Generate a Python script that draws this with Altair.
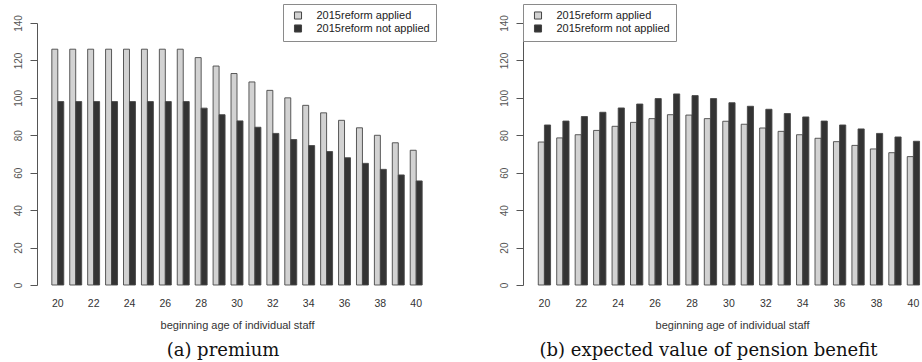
import altair as alt
import pandas as pd

# Beginning age of the individual staff member (one bar group per age)
ages = [20, 21, 22, 23, 24, 25, 26, 27, 28, 29, 30,
        31, 32, 33, 34, 35, 36, 37, 38, 39, 40]
age_ticks = [20, 22, 24, 26, 28, 30, 32, 34, 36, 38, 40]
y_ticks = [0, 20, 40, 60, 80, 100, 120, 140]

series = ["2015reform applied", "2015reform not applied"]
series_colors = ["#d2d2d2", "#333333"]

# (a) premium
premium_applied = [126, 126, 126, 126, 126, 126, 126, 126, 121.5, 117, 113,
                   108.5, 104, 100, 96, 92, 88, 84, 80, 76, 72]
premium_not_applied = [98, 98, 98, 98, 98, 98, 98, 98, 94.5, 91, 87.7,
                       84.3, 81, 77.7, 74.5, 71.3, 68, 65, 61.8, 58.8, 55.6]

# (b) expected value of pension benefit
benefit_applied = [76.4, 78.6, 80.3, 82.6, 84.8, 86.9, 88.9, 91.0, 90.8, 88.9, 87.5,
                   85.9, 83.9, 82.1, 80.3, 78.4, 76.6, 74.6, 72.7, 70.7, 68.6]
benefit_not_applied = [85.5, 87.6, 90.0, 92.3, 94.6, 96.7, 99.6, 102.1, 101.2, 99.6, 97.4,
                       95.5, 93.9, 91.6, 89.8, 87.6, 85.5, 83.4, 81.0, 79.1, 76.8]

SANS = "Liberation Sans"
SERIF = "DejaVu Serif"


def panel(applied, not_applied, caption, legend_x, width, pad_outer, band_align, title_x):
    df = pd.DataFrame({
        "age": ages + ages,
        "series": [series[0]] * len(ages) + [series[1]] * len(ages),
        "value": applied + not_applied,
    })
    return (
        alt.Chart(df)
        .mark_bar(stroke="#474747", strokeWidth=0.9)
        .encode(
            x=alt.X(
                "age:O",
                scale=alt.Scale(paddingInner=1 / 3, paddingOuter=pad_outer, align=band_align),
                axis=alt.Axis(
                    values=age_ticks, labelAngle=0, domain=False, ticks=False, tickSize=0,
                    labelPadding=13, labelFont=SANS, labelFontSize=10.5, labelColor="#333333",
                    title="beginning age of individual staff", titleFont=SANS,
                    titleFontSize=11, titleFontWeight="normal", titleColor="#333333",
                    titlePadding=11, titleX=title_x,
                ),
            ),
            xOffset=alt.XOffset(
                "series:N", sort=series,
                scale=alt.Scale(domain=series, paddingInner=0, paddingOuter=0),
            ),
            y=alt.Y(
                "value:Q",
                scale=alt.Scale(domain=[0, 140], nice=False, zero=True),
                axis=alt.Axis(
                    values=y_ticks, grid=False, tickSize=7, tickColor="#555555",
                    domainColor="#555555", labelAngle=270, labelAlign="center",
                    labelBaseline="bottom", labelPadding=7, labelFont=SANS,
                    labelFontSize=10, labelColor="#555555", title=None,
                ),
            ),
            color=alt.Color(
                "series:N", sort=series,
                scale=alt.Scale(domain=series, range=series_colors),
                legend=alt.Legend(
                    title=None, orient="none", legendX=legend_x, legendY=-19,
                    symbolType="square", symbolSize=50, symbolStrokeColor="#444444",
                    symbolStrokeWidth=1, symbolOffset=3.5, labelOffset=13,
                    padding=6, rowPadding=0, strokeColor="#8a8a8a", fillColor="white",
                    labelFont=SANS, labelFontSize=11, labelColor="#222222",
                ),
            ),
        )
        .properties(
            width=width, height=262,
            title=alt.TitleParams(
                caption, orient="bottom", anchor="middle", font=SERIF, fontSize=18,
                fontWeight="normal", color="#111111", offset=11, dx=-14,
            ),
        )
    )


left = panel(premium_applied, premium_not_applied, "(a) premium",
             246, 400, 0.827, 0.5, 200)
# the right-hand panel runs slightly past the right edge, so its bands are
# pushed towards the right end of a narrower plot area
right = panel(benefit_applied, benefit_not_applied, "(b) expected value of pension benefit",
              0, 399, 0.48, 0.862, 209)

chart = (
    alt.hconcat(left, right, spacing=86, bounds="flush")
    .resolve_scale(x="independent", y="independent", color="independent", xOffset="independent")
    .resolve_legend(color="independent")
    .configure_view(strokeWidth=0)
    .properties(padding={"left": 13, "top": 3, "right": 0, "bottom": 0}, background="white")
)

chart.save("out.html", embed_options={"renderer": "svg", "actions": False})
